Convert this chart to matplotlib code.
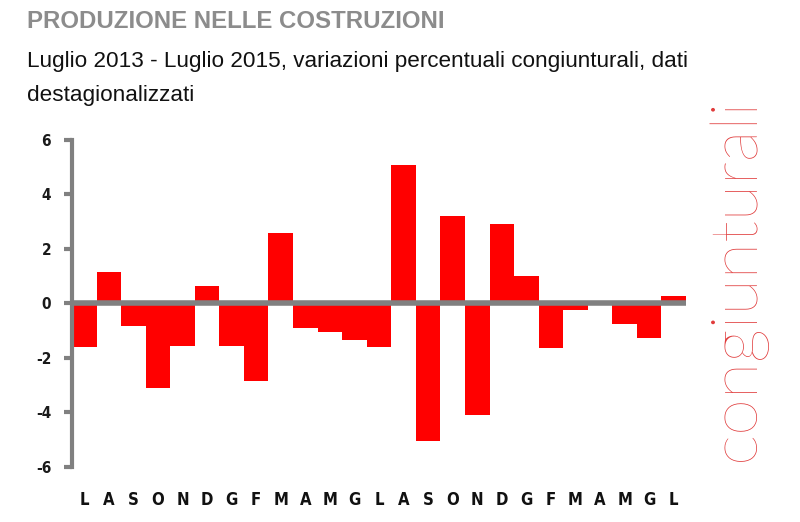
import matplotlib
matplotlib.use("Agg")
import matplotlib.pyplot as plt

# dati: variazioni percentuali congiunturali, luglio 2013 - luglio 2015
mesi = ["L", "A", "S", "O", "N", "D", "G", "F", "M", "A", "M", "G",
        "L", "A", "S", "O", "N", "D", "G", "F", "M", "A", "M", "G", "L"]
valori = [-1.6, 1.15, -0.83, -3.1, -1.55, 0.66, -1.55, -2.83, 2.58, -0.9, -1.05, -1.33,
          -1.6, 5.08, -5.03, 3.22, -4.1, 2.93, 1.0, -1.62, -0.25, 0.0, -0.76, -1.25, 0.29]
yticks = [-6, -4, -2, 0, 2, 4, 6]

plt.rcParams['font.family'] = ['Liberation Sans', 'DejaVu Sans']

fig = plt.figure(figsize=(8, 5.22), dpi=100)
ax = fig.add_axes([0.09, 0.1054, 0.7675, 0.6264])

x = list(range(len(valori)))
ax.bar(x, valori, width=1.0, color='#ff0000', zorder=2)
ax.axhline(0, color='#808080', lw=4, zorder=3)

ax.set_xlim(-0.5, len(valori) - 0.5)
ax.set_ylim(-6, 6)
ax.set_yticks(yticks)
ax.set_yticklabels([str(v) for v in yticks], fontsize=11, color='#1a1a1a',
                   family='DejaVu Sans', fontstretch='condensed', fontweight='bold')
ax.set_xticks(x)
ax.set_xticklabels(mesi, fontsize=12, fontweight='bold', color='#111111',
                   family='DejaVu Sans', fontstretch='condensed')
ax.tick_params(axis='x', length=0, pad=17)
ax.tick_params(axis='y', length=6, width=3, color='#808080', pad=9)

for s in ['top', 'right', 'bottom']:
    ax.spines[s].set_visible(False)
ax.spines['left'].set_color('#808080')
ax.spines['left'].set_linewidth(3)

fig.text(0.034, 0.958, "PRODUZIONE NELLE COSTRUZIONI", fontsize=17.3, fontweight='bold',
         color='#8c8c8c', va='center')
fig.text(0.034, 0.882, "Luglio 2013 - Luglio 2015, variazioni percentuali congiunturali, dati",
         fontsize=16.2, color='#111111', va='center')
fig.text(0.034, 0.818, "destagionalizzati", fontsize=16.2, color='#111111', va='center')

fig.text(0.92, 0.466, "congiunturali", rotation=90, fontsize=48, family=['Lato', 'DejaVu Sans'],
         fontweight=250, color='#e03a3a', ha='center', va='center')

fig.savefig("out.png", dpi=100)
